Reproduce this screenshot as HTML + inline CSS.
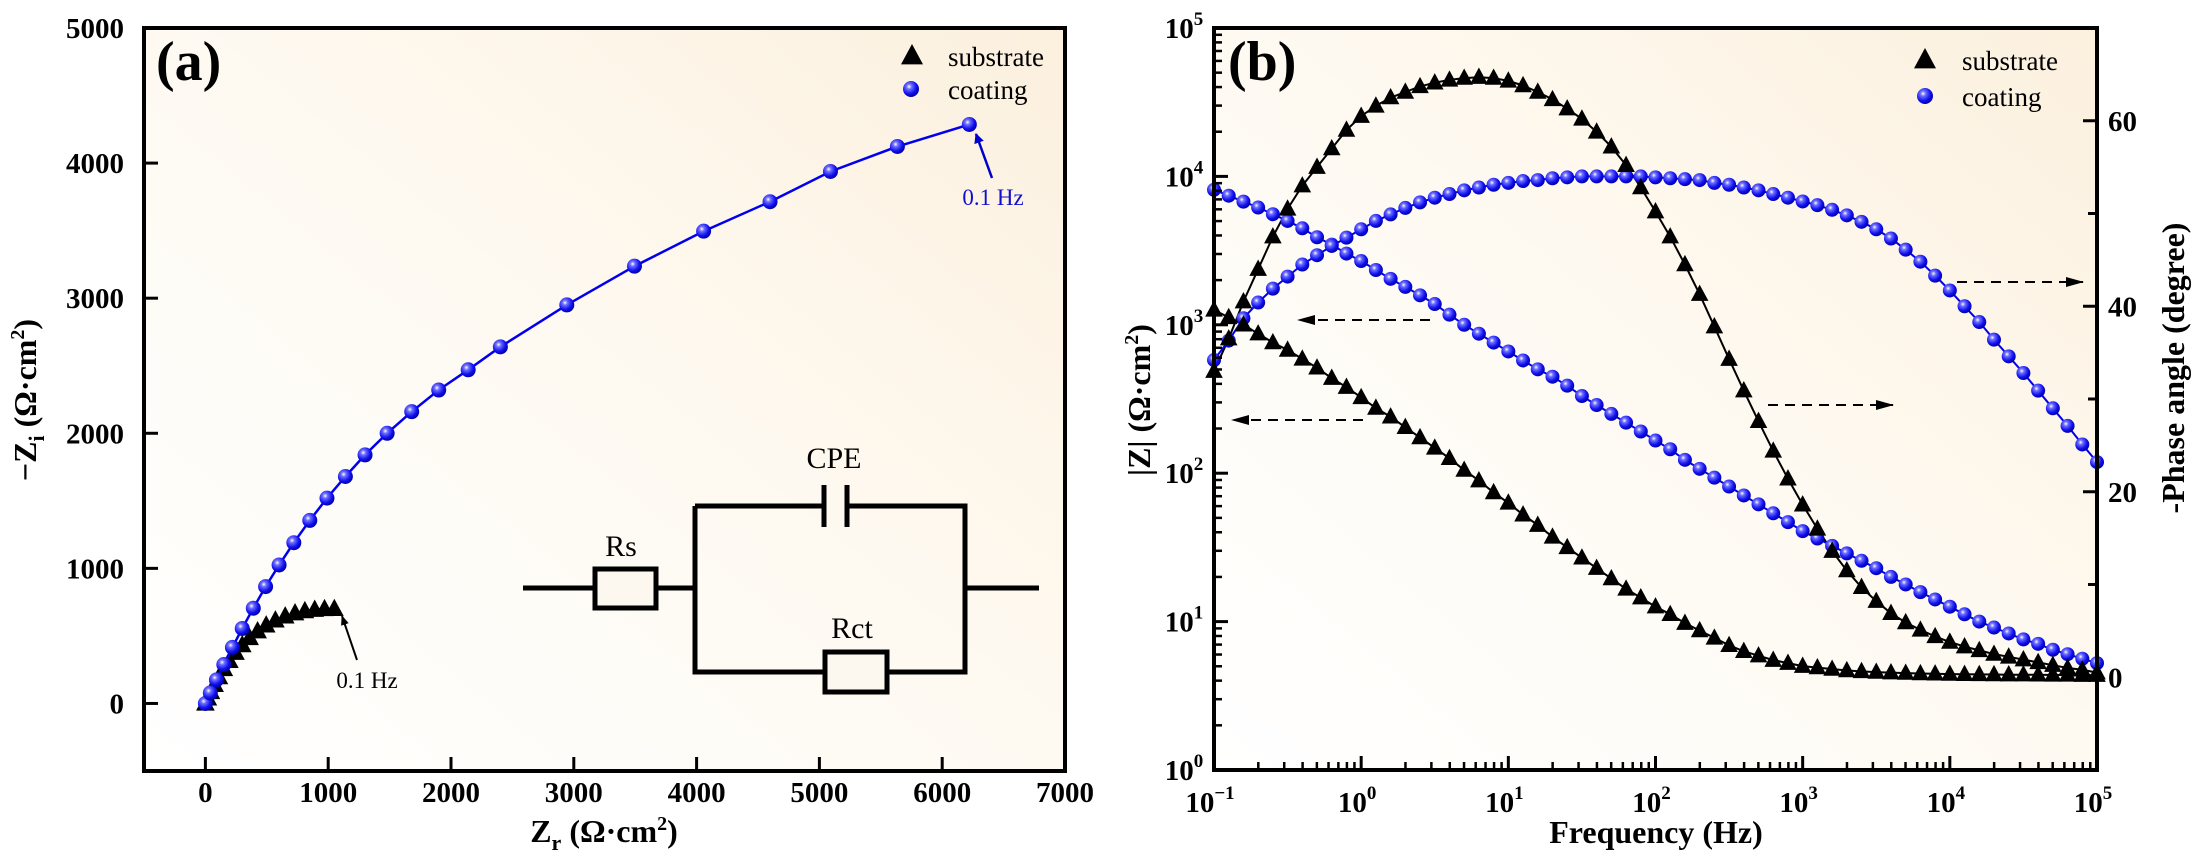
<!DOCTYPE html>
<html><head><meta charset="utf-8"><style>
html,body{margin:0;padding:0;background:#fff;}
svg{display:block;font-family:"Liberation Serif",serif;}
</style></head><body>
<svg id="fig" width="2197" height="861" viewBox="0 0 2197 861" xmlns="http://www.w3.org/2000/svg">
<defs>
<linearGradient id="bg" x1="0" y1="1" x2="1" y2="0">
<stop offset="0" stop-color="#ffffff"/><stop offset="0.5" stop-color="#fefaf2"/><stop offset="1" stop-color="#fcf0de"/>
</linearGradient>
<radialGradient id="sph" cx="0.38" cy="0.35" r="0.65">
<stop offset="0" stop-color="#ffffff"/><stop offset="0.25" stop-color="#6f6fff"/><stop offset="0.7" stop-color="#1010ee"/><stop offset="1" stop-color="#0000b0"/>
</radialGradient>
<marker id="ah" markerWidth="10" markerHeight="8" refX="9" refY="4" orient="auto" markerUnits="userSpaceOnUse"><path d="M0,0 L10,4 L0,8 z" fill="#000"/></marker>
<marker id="ahb" markerWidth="18" markerHeight="10" refX="17" refY="5" orient="auto" markerUnits="userSpaceOnUse"><path d="M0,0 L18,5 L0,10 z" fill="#000"/></marker>
<marker id="ahblue" markerWidth="10" markerHeight="14" refX="9" refY="5" orient="auto" markerUnits="userSpaceOnUse"><path d="M0,0 L10,5 L0,10 z" fill="#0000cc"/></marker>
</defs>
<rect x="144" y="28" width="921" height="743" fill="url(#bg)"/>
<rect x="1214" y="28" width="883" height="742" fill="url(#bg)"/>
<g id="ga"></g>
<g id="gb"></g>
</svg>
<script>
// ---------- Panel (a) data: Nyquist ----------
const subZr = [0,20,45,75,110,150,195,245,300,360,425,495,570,650,730,810,890,970,1050];
const subZi = [0,38,85,138,195,255,315,375,432,485,535,578,615,645,668,684,694,699,700];
const coatZr = [0,40,90,150,220,300,390,490,600,720,850,990,1140,1300,1480,1680,1900,2140,2402,2943,3494,4057,4598,5090,5635,6221];
const coatZi = [0,78,175,288,415,555,705,865,1025,1190,1355,1520,1680,1840,2000,2160,2320,2470,2640,2950,3237,3496,3714,3938,4123,4286];
const aXTicks = [0,1000,2000,3000,4000,5000,6000,7000];
const aYTicks = [0,1000,2000,3000,4000,5000];
// ---------- Panel (b) data: Bode ----------
const logFreq = [-1.0,-0.9,-0.8,-0.7,-0.6,-0.5,-0.4,-0.3,-0.2,-0.1,0.0,0.1,0.2,0.3,0.4,0.5,0.6,0.7,0.8,0.9,1.0,1.1,1.2,1.3,1.4,1.5,1.6,1.7,1.8,1.9,2.0,2.1,2.2,2.3,2.4,2.5,2.6,2.7,2.8,2.9,3.0,3.1,3.2,3.3,3.4,3.5,3.6,3.7,3.8,3.9,4.0,4.1,4.2,4.3,4.4,4.5,4.6,4.7,4.8,4.9,5.0];
const subZmod = [1259,1122,1000,871,759,676,589,513,437,380,324,275,240,204,174,148,126,105,89.1,74.1,63.1,52.5,44.7,37.2,31.6,26.9,22.9,19.5,16.6,14.5,12.6,11.2,9.77,8.71,7.76,6.92,6.31,5.89,5.50,5.25,5.01,4.90,4.79,4.68,4.62,4.57,4.53,4.50,4.47,4.45,4.43,4.42,4.41,4.40,4.39,4.39,4.38,4.37,4.37,4.36,4.36];
const subPhase = [33,36.5,40.5,44,47.5,50.5,53,55,57,59,60.5,61.6,62.5,63.1,63.7,64.1,64.4,64.6,64.7,64.6,64.3,63.8,63.1,62.3,61.3,60.2,58.8,57.2,55.2,52.8,50.2,47.5,44.5,41.3,37.8,34.3,30.9,27.6,24.4,21.4,18.6,16.0,13.6,11.5,9.7,8.2,6.9,5.9,5.1,4.4,3.8,3.3,2.9,2.5,2.2,1.9,1.6,1.3,1.0,0.8,0.5];
const coatZmod = [8130,7410,6760,6170,5560,5010,4470,3890,3470,3020,2690,2340,2040,1800,1580,1380,1170,1000,871,759,661,575,501,447,389,331,288,251,219,191,166,145,123,107,93.3,81.3,70.8,61.7,53.7,46.8,40.7,36.3,32.4,28.8,25.7,22.9,20.0,17.8,15.8,14.1,12.6,11.2,10.0,9.12,8.32,7.59,7.08,6.46,6.03,5.62,5.25];
const coatPhase = [34.2,36.3,38.7,40.4,41.9,43.2,44.5,45.5,46.5,47.4,48.3,49.2,49.9,50.6,51.2,51.7,52.1,52.5,52.8,53.1,53.3,53.5,53.6,53.8,53.9,54.0,54.0,54.0,54.0,54.0,53.9,53.8,53.7,53.6,53.3,53.1,52.8,52.5,52.1,51.7,51.3,50.9,50.4,49.8,49.1,48.3,47.3,46.1,44.8,43.3,41.7,40.0,38.3,36.4,34.6,32.8,30.9,29.0,27.1,25.1,23.2];
const bXExp = [-1,0,1,2,3,4,5];
const bYExp = [0,1,2,3,4,5];
const phaseTicks = [0,20,40,60];
const phaseMinor = [10,30,50];

const NS = "http://www.w3.org/2000/svg";
function mk(parent, tag, attrs, text){
  const e = document.createElementNS(NS, tag);
  for (const k in attrs) e.setAttribute(k, attrs[k]);
  if (text !== undefined) e.textContent = text;
  parent.appendChild(e); return e;
}
const xa = v => 144 + (v + 500) / 7500 * 921;
const ya = v => 771 - (v + 500) / 5500 * 743;
const xb = lf => 1214 + (lf + 1) / 6 * 883;
const yz = z => 770 - Math.log10(z) / 5 * 742;
const yp = p => 770 - (p + 10) / 80 * 742;

function tri(g, x, y, s, name){
  const p = mk(g, "path", {d:`M${x},${y - s*0.6} L${x + s*0.55},${y + s*0.42} L${x - s*0.55},${y + s*0.42} Z`, fill:"#000"});
  
  
}
function sph(g, x, y, r, name){
  const c = mk(g, "circle", {cx:x, cy:y, r:r, fill:"url(#sph)"});
  
  
}
function line(g, pts, color, w, name){
  const l = mk(g, "polyline", {points: pts.map(p => p[0].toFixed(1) + "," + p[1].toFixed(1)).join(" "), fill:"none", stroke:color, "stroke-width":w});
  
  
}
function txt(g, x, y, s, attrs, name){
  const t = mk(g, "text", Object.assign({x:x, y:y}, attrs), s);
  
  
  return t;
}

// ================= Panel A =================
const ga = document.getElementById("ga");
line(ga, subZr.map((v,i)=>[xa(v), ya(subZi[i])]), "#000", 2, "substrate-nyquist-line");
subZr.forEach((v,i)=> tri(ga, xa(v), ya(subZi[i]), 17, "substrate-nyquist-point"));
line(ga, coatZr.map((v,i)=>[xa(v), ya(coatZi[i])]), "#0000ee", 2.5, "coating-nyquist-line");
coatZr.forEach((v,i)=> sph(ga, xa(v), ya(coatZi[i]), 7.5, "coating-nyquist-point"));
const fa = mk(ga, "rect", {x:144, y:28, width:921, height:743, fill:"none", stroke:"#000", "stroke-width":4});


aXTicks.forEach(v => {
  const t = mk(ga, "line", {x1:xa(v), x2:xa(v), y1:771, y2:757, stroke:"#000", "stroke-width":3});
  
  
  txt(ga, xa(v), 802, String(v), {"font-size":29, "font-weight":"bold", "text-anchor":"middle"}, "x-tick-label");
});
aYTicks.forEach(v => {
  const t = mk(ga, "line", {x1:144, x2:158, y1:ya(v), y2:ya(v), stroke:"#000", "stroke-width":3});
  
  
  txt(ga, 124, ya(v) + 10, String(v), {"font-size":29, "font-weight":"bold", "text-anchor":"end"}, "y-tick-label");
});
txt(ga, 156, 80, "(a)", {"font-size":56, "font-weight":"bold"}, "panel-a-label");
const xta = txt(ga, 604, 842, "", {"font-size":32, "font-weight":"bold", "text-anchor":"middle"}, "x-axis-title");
xta.innerHTML = 'Z<tspan font-size="22" dy="8">r</tspan><tspan dy="-8"> (Ω·cm</tspan><tspan font-size="20" dy="-12">2</tspan><tspan dy="12">)</tspan>';
const yta = txt(ga, 0, 0, "", {"font-size":32, "font-weight":"bold", "text-anchor":"middle", transform:"translate(36,400) rotate(-90)"}, "y-axis-title");
yta.innerHTML = '−Z<tspan font-size="22" dy="8">i</tspan><tspan dy="-8"> (Ω·cm</tspan><tspan font-size="20" dy="-12">2</tspan><tspan dy="12">)</tspan>';
tri(ga, 912, 56, 20, "legend-substrate-marker");
txt(ga, 948, 66, "substrate", {"font-size":27}, "legend-substrate-label");
sph(ga, 911, 89, 8, "legend-coating-marker");
txt(ga, 948, 99, "coating", {"font-size":27}, "legend-coating-label");
txt(ga, 993, 205, "0.1 Hz", {"font-size":23, fill:"#1010cc", "text-anchor":"middle"}, "coating-0.1hz-annotation");
const a1 = mk(ga, "line", {x1:992, y1:178, x2:976, y2:134, stroke:"#0000cc", "stroke-width":2.5, "marker-end":"url(#ahblue)"});


txt(ga, 367, 688, "0.1 Hz", {"font-size":23, fill:"#000", "text-anchor":"middle"}, "substrate-0.1hz-annotation");
const a2 = mk(ga, "line", {x1:357, y1:660, x2:342, y2:616, stroke:"#000", "stroke-width":2, "marker-end":"url(#ah)"});


const circ = mk(ga, "g", {stroke:"#000", "stroke-width":5, fill:"none"});


mk(circ, "path", {d:"M523,588 H595 M656,588 H695 M695,506 V672 H825 M887,672 H965 V506 H847 M824,506 H695 M965,588 H1039"});
mk(circ, "rect", {x:595, y:569, width:61, height:39, fill:"#fdf8ef"});
mk(circ, "rect", {x:825, y:652, width:62, height:40, fill:"#fdf8ef"});
mk(circ, "path", {d:"M824,485 V527 M847,485 V527"});
txt(ga, 621, 556, "Rs", {"font-size":30, "text-anchor":"middle"}, "rs-label");
txt(ga, 834, 468, "CPE", {"font-size":30, "text-anchor":"middle"}, "cpe-label");
txt(ga, 852, 638, "Rct", {"font-size":30, "text-anchor":"middle"}, "rct-label");

// ================= Panel B =================
const gb = document.getElementById("gb");
line(gb, logFreq.map((v,i)=>[xb(v), yz(subZmod[i])]), "#000", 2, "substrate-modulus-line");
line(gb, logFreq.map((v,i)=>[xb(v), yp(subPhase[i])]), "#000", 2, "substrate-phase-line");
line(gb, logFreq.map((v,i)=>[xb(v), yz(coatZmod[i])]), "#0000ee", 2, "coating-modulus-line");
line(gb, logFreq.map((v,i)=>[xb(v), yp(coatPhase[i])]), "#0000ee", 2, "coating-phase-line");
logFreq.forEach((v,i)=> sph(gb, xb(v), yz(coatZmod[i]), 7, "coating-modulus-point"));
logFreq.forEach((v,i)=> sph(gb, xb(v), yp(coatPhase[i]), 7, "coating-phase-point"));
logFreq.forEach((v,i)=> tri(gb, xb(v), yz(subZmod[i]), 16, "substrate-modulus-point"));
logFreq.forEach((v,i)=> tri(gb, xb(v), yp(subPhase[i]), 16, "substrate-phase-point"));
const fb = mk(gb, "rect", {x:1214, y:28, width:883, height:742, fill:"none", stroke:"#000", "stroke-width":4});


bXExp.forEach(e => {
  const x = xb(e);
  const t = mk(gb, "line", {x1:x, x2:x, y1:770, y2:756, stroke:"#000", "stroke-width":3});
  
  
  const lb = txt(gb, x - 4, 812, "", {"font-size":29, "font-weight":"bold", "text-anchor":"middle"}, "freq-tick-label");
  lb.innerHTML = '10<tspan font-size="19" dy="-13">' + (e < 0 ? '−' + (-e) : e) + '</tspan>';
  if (e < 5) for (let m = 2; m <= 9; m++) {
    const xm = xb(e + Math.log10(m));
    const mt = mk(gb, "line", {x1:xm, x2:xm, y1:770, y2:762, stroke:"#000", "stroke-width":2.5});
    
    
  }
});
bYExp.forEach(e => {
  const y = yz(Math.pow(10, e));
  const t = mk(gb, "line", {x1:1214, x2:1228, y1:y, y2:y, stroke:"#000", "stroke-width":3});
  
  
  const lb = txt(gb, 1184, y + 10, "", {"font-size":29, "font-weight":"bold", "text-anchor":"middle"}, "modulus-tick-label");
  lb.innerHTML = '10<tspan font-size="19" dy="-13">' + e + '</tspan>';
  if (e < 5) for (let m = 2; m <= 9; m++) {
    const ym = yz(m * Math.pow(10, e));
    const mt = mk(gb, "line", {x1:1214, x2:1222, y1:ym, y2:ym, stroke:"#000", "stroke-width":2.5});
    
    
  }
});
phaseTicks.forEach(p => {
  const t = mk(gb, "line", {x1:2097, x2:2083, y1:yp(p), y2:yp(p), stroke:"#000", "stroke-width":3});
  
  
  txt(gb, 2108, yp(p) + 10, String(p), {"font-size":29, "font-weight":"bold"}, "phase-tick-label");
});
phaseMinor.forEach(p => {
  const t = mk(gb, "line", {x1:2097, x2:2088, y1:yp(p), y2:yp(p), stroke:"#000", "stroke-width":3});
  
  
});
txt(gb, 1228, 80, "(b)", {"font-size":56, "font-weight":"bold"}, "panel-b-label");
txt(gb, 1656, 843, "Frequency (Hz)", {"font-size":32, "font-weight":"bold", "text-anchor":"middle"}, "x-axis-title-frequency");
const ytb = txt(gb, 0, 0, "", {"font-size":32, "font-weight":"bold", "text-anchor":"middle", transform:"translate(1150,400) rotate(-90)"}, "y-axis-title-modulus");
ytb.innerHTML = '|Z| (Ω·cm<tspan font-size="20" dy="-12">2</tspan><tspan dy="12">)</tspan>';
txt(gb, 0, 0, "-Phase angle (degree)", {"font-size":32, "font-weight":"bold", "text-anchor":"middle", transform:"translate(2184,368) rotate(-90)"}, "y-axis-title-phase");
tri(gb, 1925, 60, 20, "legend-substrate-marker-b");
txt(gb, 1962, 70, "substrate", {"font-size":27}, "legend-substrate-label-b");
sph(gb, 1925, 96, 8, "legend-coating-marker-b");
txt(gb, 1962, 106, "coating", {"font-size":27}, "legend-coating-label-b");
[[1430,320,1298,320],[1363,420,1232,420],[1768,405,1893,405],[1957,282,2083,282]].forEach(a => {
  const l = mk(gb, "line", {x1:a[0], y1:a[1], x2:a[2], y2:a[3], stroke:"#000", "stroke-width":2, "stroke-dasharray":"10,7", "marker-end":"url(#ahb)"});
  
  
});
</script>
</body></html>
